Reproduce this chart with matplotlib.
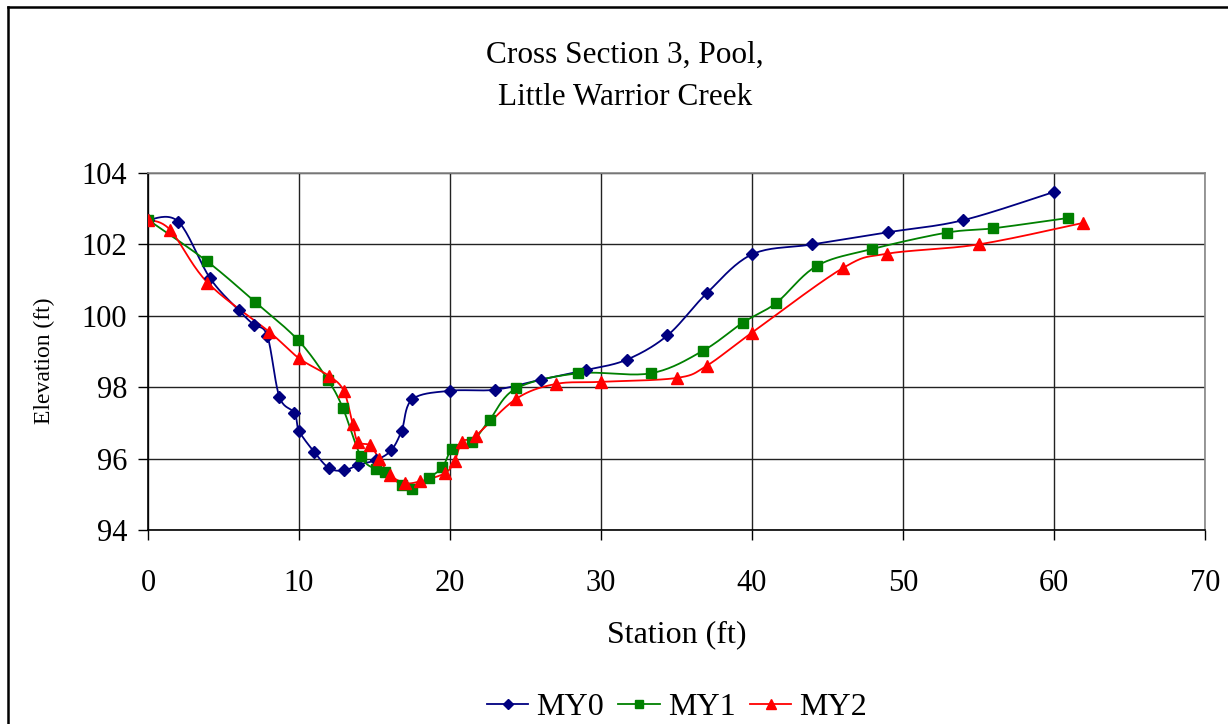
import numpy as np
import matplotlib
matplotlib.use("Agg")
import matplotlib.pyplot as plt
from matplotlib.lines import Line2D

# ---- data ----
my0_x = [0, 2, 4.1, 6, 7, 7.9, 8.7, 9.7, 10, 11, 12, 13, 13.9, 15.1, 16.1, 16.8, 17.5,
         20, 23, 26, 29, 31.7, 34.4, 37, 40, 44, 49, 54, 60]
my0_y = [102.69, 102.64, 101.06, 100.16, 99.75, 99.44, 97.73, 97.28, 96.78, 96.19, 95.73,
         95.67, 95.82, 95.96, 96.23, 96.78, 97.66, 97.90, 97.93, 98.21, 98.48, 98.77,
         99.45, 100.63, 101.72, 102.0, 102.34, 102.68, 103.47]

my1_x = [0, 3.9, 7.06, 9.96, 11.9, 12.9, 14.1, 15.1, 15.7, 16.8, 17.5, 18.6, 19.5,
         20.15, 21.46, 22.63, 24.4, 28.5, 33.3, 36.75, 39.4, 41.6, 44.3, 47.95, 52.9,
         55.96, 60.93]
my1_y = [102.69, 101.53, 100.40, 99.31, 98.21, 97.42, 96.06, 95.70, 95.63, 95.25, 95.16,
         95.46, 95.76, 96.26, 96.47, 97.09, 97.97, 98.39, 98.39, 99.02, 99.81, 100.36,
         101.40, 101.87, 102.33, 102.45, 102.74]

my2_x = [0, 1.46, 3.94, 8.03, 10.0, 11.97, 12.96, 13.56, 13.9, 14.7, 15.3, 16.0, 17.0,
         18.0, 19.65, 20.3, 20.8, 21.7, 24.4, 27.0, 30.0, 35.03, 37.0, 40.0, 46.03,
         48.96, 55.0, 61.9]
my2_y = [102.69, 102.41, 100.93, 99.55, 98.81, 98.32, 97.90, 96.96, 96.47, 96.37, 96.0,
         95.55, 95.32, 95.36, 95.59, 95.93, 96.47, 96.64, 97.68, 98.09, 98.15, 98.26,
         98.6, 99.53, 101.34, 101.74, 102.0, 102.6]

series_names = ["MY0", "MY1", "MY2"]
x_ticks = [0, 10, 20, 30, 40, 50, 60, 70]
y_ticks = [94, 96, 98, 100, 102, 104]


def smooth(x, y, n=20):
    """Catmull-Rom style Bezier smoothing (like Excel smoothed lines)."""
    P = np.column_stack([x, y]).astype(float)
    m = len(P)
    out = [P[0]]
    t = np.linspace(0, 1, n + 1)[1:][:, None]
    for i in range(m - 1):
        p0 = P[i - 1] if i > 0 else P[i]
        p1 = P[i]
        p2 = P[i + 1]
        p3 = P[i + 2] if i + 2 < m else P[i + 1]
        c1 = p1 + (p2 - p0) / 6.0
        c2 = p2 - (p3 - p1) / 6.0
        seg = ((1 - t) ** 3) * p1 + 3 * ((1 - t) ** 2) * t * c1 + 3 * (1 - t) * t ** 2 * c2 + t ** 3 * p2
        out.extend(seg)
    out = np.array(out)
    return out[:, 0], out[:, 1]


plt.rcParams['font.family'] = ['Liberation Serif', 'DejaVu Serif']

fig = plt.figure(figsize=(12.28, 7.24), dpi=100)
fig.patch.set_facecolor('white')
W, H = 1228, 724
ax = fig.add_axes([148 / W, 1 - 530 / H, (1205 - 148) / W, (530 - 173) / H])

styles = [
    dict(color='#000080', marker='D', ms=6.5),
    dict(color='#008000', marker='s', ms=6.5),
    dict(color='#FF0000', marker='^', ms=8.5),
]
data = [(my0_x, my0_y), (my1_x, my1_y), (my2_x, my2_y)]

handles = []
for (xs, ys), st, name in zip(data, styles, series_names):
    sx, sy = smooth(xs, ys)
    ax.plot(sx, sy, color=st['color'], lw=1.3, zorder=3)
    ax.plot(xs, ys, ls='none', marker=st['marker'], ms=st['ms'], color=st['color'],
            markeredgecolor=st['color'], zorder=4)
    handles.append(Line2D([], [], color=st['color'], lw=1.3, marker=st['marker'],
                          ms=st['ms'] * 0.85, markeredgecolor=st['color']))

ax.set_xlim(0, 70)
ax.set_ylim(94, 104)
ax.set_xticks(x_ticks)
ax.set_yticks(y_ticks)
ax.tick_params(axis='both', labelsize=22, direction='out', length=7, width=1, color='black')
ax.tick_params(axis='x', pad=21)
ax.tick_params(axis='y', pad=8)
ax.grid(True, color='#222222', lw=1)
ax.set_axisbelow(True)
for s in ['top', 'right']:
    ax.spines[s].set_color('#888888')
    ax.spines[s].set_linewidth(1.2)
for s in ['left', 'bottom']:
    ax.spines[s].set_color('black')
    ax.spines[s].set_linewidth(1.2)

ax.set_xlabel('Station (ft)', fontsize=23, labelpad=16)
ax.set_ylabel('Elevation (ft)', fontsize=17)
ax.yaxis.set_label_coords(-0.088, 0.473)

fig.text(625 / W, 1 - 76 / H, 'Cross Section 3, Pool,\nLittle Warrior Creek',
         ha='center', va='center', fontsize=22.5, linespacing=1.6)

fig.legend(handles, series_names, loc='center', bbox_to_anchor=(677 / W, 1 - 707 / H),
           ncol=3, frameon=False, fontsize=23, handlelength=1.3, handletextpad=0.25,
           columnspacing=0.45, borderpad=0, borderaxespad=0)

# outer frame
fig.add_artist(Line2D([8 / W, 1], [1 - 7 / H, 1 - 7 / H], color='black', lw=1.8,
                      transform=fig.transFigure))
fig.add_artist(Line2D([8 / W, 8 / W], [0, 1 - 7 / H], color='black', lw=1.8,
                      transform=fig.transFigure))

fig.savefig('out.png', dpi=100)
